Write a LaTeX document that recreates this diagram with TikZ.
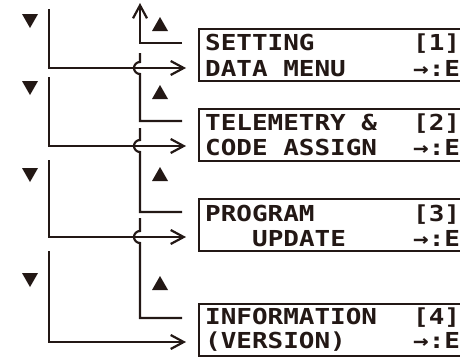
\documentclass[tikz,border=0pt]{standalone}
\usepackage{fontspec}
\usetikzlibrary{arrows.meta}
\newfontfamily\lcd{DejaVu Sans Mono}[FakeStretch=1.18]
\definecolor{ink}{RGB}{35,24,21}
\begin{document}
\begin{tikzpicture}[x=1pt,y=-1pt,
  conn/.style={line width=2.2pt, draw=ink},
  arr/.style={conn, -{Straight Barb[length=13pt,width=14pt]}},
  box/.style={draw=ink, line width=1.5pt, minimum width=272pt, minimum height=52pt, anchor=north west, inner sep=0pt},
  lcdtext/.style={anchor=base west, inner sep=0pt, text=ink, font=\lcd\bfseries\fontsize{22}{26}\selectfont},
  downtri/.pic={\fill[ink] (-8,-7) -- (8,-7) -- (0,7) -- cycle;},
  uptri/.pic={\fill[ink] (-8,7) -- (8,7) -- (0,-7) -- cycle;}
]
\useasboundingbox (0,0) rectangle (460,356);
\clip (0,0) rectangle (460,356);

% boxes
\node[box] (b1) at (198,28) {};
\node[box] (b2) at (198,108) {};
\node[box] (b3) at (198,198) {};
\node[box] (b4) at (198,303) {};

% texts
\node[lcdtext] (t1a) at (205,50) {SETTING};
\node[lcdtext] (t1b) at (413,50) {[1]};
\node[lcdtext] (t1c) at (205,76) {DATA MENU};
\node[lcdtext] (t1d) at (413,76) {→:E};
\node[lcdtext] (t2a) at (205,130) {TELEMETRY \&};
\node[lcdtext] (t2b) at (413,130) {[2]};
\node[lcdtext] (t2c) at (205,155) {CODE ASSIGN};
\node[lcdtext] (t2d) at (413,155) {→:E};
\node[lcdtext] (t3a) at (205,221) {PROGRAM};
\node[lcdtext] (t3b) at (413,221) {[3]};
\node[lcdtext] (t3c) at (252,246) {UPDATE};
\node[lcdtext] (t3d) at (413,246) {→:E};
\node[lcdtext] (t4a) at (205,324) {INFORMATION};
\node[lcdtext] (t4b) at (413,324) {[4]};
\node[lcdtext] (t4c) at (205,348) {(VERSION)};
\node[lcdtext] (t4d) at (413,348) {→:E};

% coordinates
\coordinate (in1) at (186,68);
\coordinate (in2) at (186,146);
\coordinate (in3) at (186,237);
\coordinate (in4) at (186,342);
\coordinate (up0) at (140,3);

% left (down) connectors
\draw[arr] (49,9) -- (49,68) -- (in1);
\draw[arr] (49,77) -- (49,146) -- (in2);
\draw[arr] (49,160) -- (49,237) -- (in3);
\draw[arr] (49,251) -- (49,342) -- (in4);

% right (up) connectors
\draw[arr] (182,43) -- (140,43) -- (up0);
\draw[conn] (182,121) -- (140,121) -- (140,74) arc[start angle=270,end angle=90,radius=6pt] -- (140,53);
\draw[conn] (182,212) -- (140,212) -- (140,152) arc[start angle=270,end angle=90,radius=6pt] -- (140,128);
\draw[conn] (182,318) -- (140,318) -- (140,243) arc[start angle=270,end angle=90,radius=6pt] -- (140,218);

% key marks
\pic at (30,21) {downtri};
\pic at (30,88) {downtri};
\pic at (30,175) {downtri};
\pic at (30,280) {downtri};
\pic at (160,24) {uptri};
\pic at (160,92) {uptri};
\pic at (160,174) {uptri};
\pic at (160,283) {uptri};
\end{tikzpicture}
\end{document}
